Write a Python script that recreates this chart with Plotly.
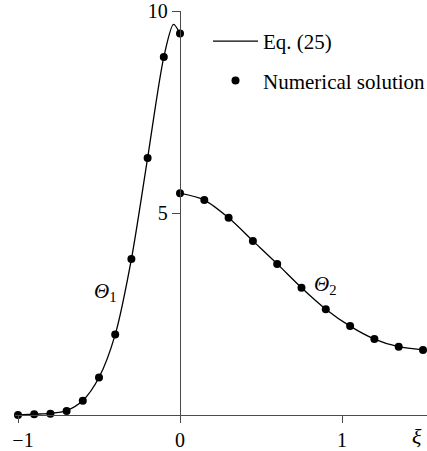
import plotly.graph_objects as go

# Numerical solution (dots)
num_x1 = [-1.0, -0.9, -0.8, -0.7, -0.6, -0.5, -0.4, -0.3, -0.2, -0.1, 0.0]
num_y1 = [0.0, 0.02, 0.03, 0.10, 0.35, 0.93, 1.99, 3.86, 6.36, 8.86, 9.44]
num_x2 = [0.0, 0.15, 0.30, 0.45, 0.60, 0.75, 0.90, 1.05, 1.20, 1.35, 1.50]
num_y2 = [5.49, 5.32, 4.88, 4.31, 3.74, 3.15, 2.62, 2.20, 1.88, 1.69, 1.61]

# Eq. (25) curve
eq_x1 = [-1.0, -0.9, -0.8, -0.7, -0.6, -0.5, -0.4, -0.3, -0.2, -0.1, -0.04, 0.0]
eq_y1 = [0.0, 0.02, 0.04, 0.11, 0.36, 0.93, 1.99, 3.86, 6.36, 8.86, 9.67, 9.44]
eq_x2 = [0.0, 0.15, 0.30, 0.45, 0.60, 0.75, 0.90, 1.05, 1.20, 1.35, 1.50]
eq_y2 = [5.49, 5.32, 4.88, 4.31, 3.74, 3.15, 2.62, 2.20, 1.88, 1.69, 1.61]

x_ticks = [-1, 0, 1]
x_labels = ["\u2002\u22121", "0", "1"]
y_ticks = [5, 10]
y_labels = ["5", "10"]

FONT = "Liberation Serif"
AX = "#4a4a4a"

fig = go.Figure()
fig.add_trace(go.Scatter(
    x=eq_x1 + [None] + eq_x2, y=eq_y1 + [None] + eq_y2,
    mode="lines", line=dict(color="black", width=1.3, shape="spline", smoothing=0.8),
    name="Eq. (25)", legendgroup="a", cliponaxis=False))
fig.add_trace(go.Scatter(
    x=num_x1 + num_x2, y=num_y1 + num_y2,
    mode="markers", marker=dict(color="black", size=8),
    name="Numerical solution", legendgroup="b", cliponaxis=False))

L, R, T, B = 15, 0, 11, 36
W, H = 427, 451
pw = W - L - R
ph = H - T - B
xmin = (L - 180) / 162.0
xmax = (W - R - 180) / 162.0

fig.add_annotation(x=-0.457, y=3.04, text="<i>Θ</i><sub>1</sub>", showarrow=False,
                   font=dict(family=FONT, size=21, color="black"))
fig.add_annotation(x=0.90, y=3.22, text="<i>Θ</i><sub>2</sub>", showarrow=False,
                   font=dict(family=FONT, size=21, color="black"))
fig.add_annotation(x=1.463, xref="x", y=-(436 - 415) / ph, yref="paper",
                   text="<i>ξ</i>", showarrow=False, yanchor="middle",
                   font=dict(family=FONT, size=22, color="black"))

fig.update_layout(
    width=W, height=H, margin=dict(l=L, r=R, t=T, b=B, autoexpand=False),
    paper_bgcolor="white", plot_bgcolor="white",
    font=dict(family=FONT, size=20, color="black"),
    showlegend=True,
    legend=dict(x=(208 - L) / pw, y=1.0 - 10 / ph, xanchor="left", yanchor="top",
                bgcolor="rgba(0,0,0,0)", font=dict(family=FONT, size=21),
                tracegroupgap=9, traceorder="grouped", itemwidth=45),
    xaxis=dict(range=[xmin, xmax], showgrid=False, zeroline=False, showline=True,
               linecolor=AX, linewidth=1.3, ticks="outside", ticklen=7, tickcolor=AX,
               tickwidth=1.3, tickvals=x_ticks, ticktext=x_labels, anchor="y",
               ticklabeloverflow="allow"),
    yaxis=dict(range=[0, 10], showgrid=False, zeroline=False, showline=True,
               linecolor=AX, linewidth=1.3, ticks="outside", ticklen=8, tickcolor=AX,
               tickwidth=1.3, tickvals=y_ticks, ticktext=y_labels,
               anchor="free", position=(180 - L) / pw, ticklabeloverflow="allow"),
)

fig.write_html("out.html")
